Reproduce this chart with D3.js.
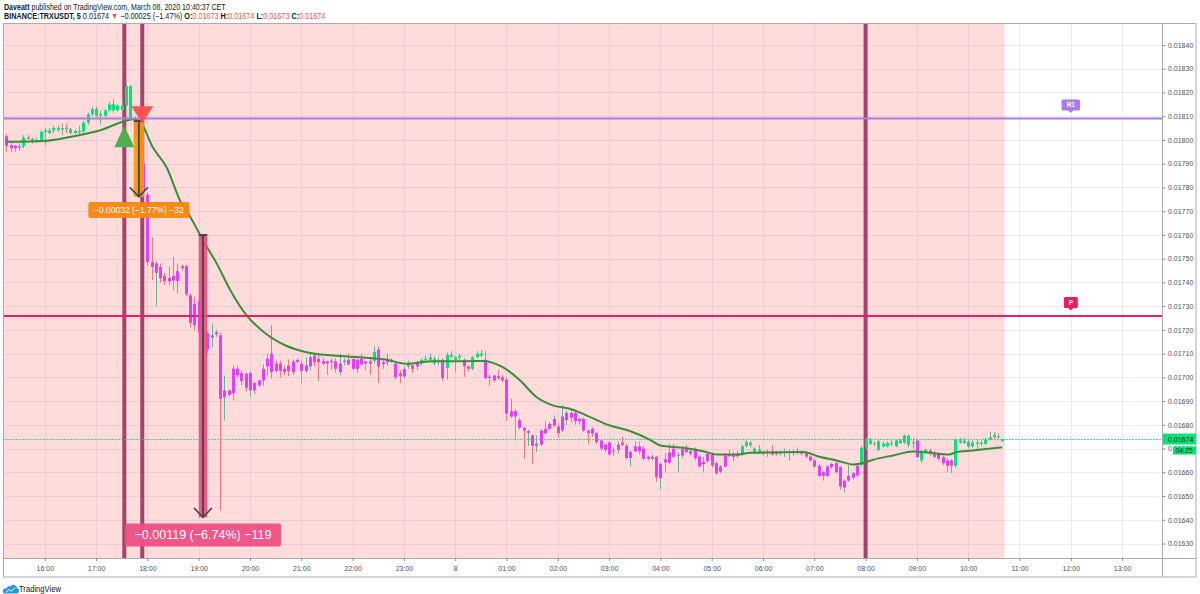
<!DOCTYPE html>
<html><head><meta charset="utf-8">
<script src="https://cdn.jsdelivr.net/npm/d3@7"></script>
<style>
body{margin:0;background:#fff;}
svg{display:block;font-family:"Liberation Sans",Arial,sans-serif;}
</style>
</head><body>
<svg id="c" width="1200" height="594"></svg>
<script>
// ---------- DATA (prices given ×100000, i.e. 1801.6 = 0.018016) ----------
const firstBar = "2020-03-07 15:15";
const barMinutes = 5;
const openE5 = [1801.6,1797.8,1797.5,1797,1797.3,1801,1800.5,1799.5,1800,1803.4,1803,1804,1805,1804.3,1805,1804.5,1803,1803.6,1803.6,1807.3,
1810.8,1813,1810.2,1810.2,1812.5,1815,1812.5,1812.5,1814.5,1822.7,1809,1801.5,1790,1777,1748.6,1744,1746.5,1742.6,1740.5,1742.7,
1740.6,1746.8,1746.8,1734.5,1731,1732,1719,1718.5,1716.8,1718,1717.7,1691.5,1692.6,1693.3,1703.7,1701.8,1701.5,1694.5,1697.6,1696.6,
1698.7,1704.6,1702.2,1705.8,1705.8,1703.6,1705,1702.2,1706.5,1705.8,1702.6,1704.6,1709.2,1707.8,1705.8,1706.7,1706.5,1706.7,1702.2,1706.5,
1707.4,1707.8,1707.4,1705.4,1706.7,1706.7,1706.9,1711.7,1705.6,1706.3,1707.4,1705.8,1701.8,1700.4,1704.6,1705,1704.6,1705.8,1707.4,1707.4,
1705.8,1706.5,1707.4,1704,1709.4,1708.5,1708.4,1707.4,1704.6,1703.6,1708.5,1709.2,1707.4,1699.7,1700.8,1700.5,1700,1699,1683.5,1685.7,
1682,1678.8,1676.6,1675.5,1671.2,1671.7,1678.3,1678.3,1679.7,1679.3,1677.6,1682,1685,1685,1682.5,1682.5,1677.6,1678.3,1676.5,1673.4,
1671.7,1672.6,1668.8,1669.5,1672.6,1671.1,1666,1668.8,1670.9,1670,1666.6,1665.7,1666.6,1657.5,1664.1,1664,1669.9,1667,1667,1669.9,
1668.8,1669.9,1666.6,1663.5,1664.7,1667.5,1663.8,1660.2,1662.4,1667.5,1667.5,1666.8,1667.4,1671,1672.5,1670,1669.5,1668.5,1668.2,1668.8,
1668.5,1667.8,1668.3,1668.3,1668.4,1668.4,1668.5,1668.5,1666.6,1665,1662.8,1660,1658.5,1663.5,1663.8,1662.2,1653.5,1656.5,1657.7,1658.7,
1663,1670.5,1672,1671.9,1669.5,1670.9,1670.9,1672,1670.9,1672.3,1672.5,1671.5,1672.7,1673.4,1665,1668.5,1669.2,1668.2,1667.8,1666.3,
1665,1662.8,1662.8,1672.5,1672.3,1670.9,1670.9,1672,1672,1672,1673.8,1675.7,1674.8,1673];
const highE5 = [1802.5,1799,1798,1798.5,1802,1802,1801,1801,1804,1805,1805,1806,1806,1807,1807,1805,1804.5,1806,1808,1811.5,
1814,1814,1812.5,1813,1816,1817,1815,1816,1823.5,1823,1810,1803,1791,1778,1759,1749,1748,1744,1746.5,1750.7,
1748,1747.5,1747.5,1735.5,1734,1733,1720.5,1719,1722.7,1720,1719,1700.8,1695,1705,1705,1703,1702,1702.5,1698,1699,
1705.5,1710,1722,1707,1707,1705,1707.5,1707.5,1708,1707,1708.5,1710,1710,1710.2,1708,1707,1708,1708,1710,1708,
1710,1708,1708,1710,1707,1708,1713,1713,1708,1710,1708,1706,1703,1704.5,1707,1706,1707,1708,1709,1710,
1709,1708.5,1708,1710.5,1711,1709,1710,1708,1705,1709,1711,1711.5,1711,1701,1701,1703,1701,1700,1691,1686.5,
1683,1679,1678,1676,1675.5,1678,1681.5,1681,1684,1680.6,1688.4,1686,1686.5,1686,1683,1683,1678,1679,1677,1674,
1672,1673,1670.5,1673,1675,1672,1669,1673,1673,1671,1667,1667.5,1667,1664,1668,1672,1672,1668.5,1670.5,1671.5,
1669.5,1670.5,1667,1666.5,1668.5,1668,1664.5,1663,1668,1669.5,1668.5,1669,1671.5,1673.5,1673,1670.5,1671.5,1669,1669.5,1671.5,
1669,1669,1670,1669.5,1669.5,1670.5,1669,1669,1667,1665.5,1663.5,1660.5,1663,1664,1664.5,1662.5,1657,1663,1660,1663.5,
1671,1674.5,1674.5,1673,1674,1673,1673,1673.5,1674,1674,1676,1676,1674.5,1674,1669.5,1670,1670,1669,1668.5,1667,
1666,1665.5,1674.5,1674.5,1674.5,1673.5,1673.5,1674,1673.5,1674.5,1677,1677,1676.5,1674];
const lowE5 = [1795,1795,1795,1795.5,1796.5,1800,1798.5,1799,1799.5,1797.8,1802.5,1803,1803.5,1802,1803,1802.5,1802.5,1802.5,1803,1806.5,
1810,1809.5,1806.5,1809.5,1812,1811.5,1812,1812,1814,1808,1800,1788,1776,1747,1741,1730,1740,1739,1738.8,1736.7,
1735.5,1745,1734,1721,1720,1718,1714,1710,1712.6,1717,1643.9,1681.8,1692,1690.3,1700,1696.7,1694,1692,1693,1696,
1696.5,1700.8,1699.5,1702,1700,1701,1700.5,1701,1705.5,1697.6,1702,1703,1704.5,1698.5,1705,1701,1703,1702,1700.8,1705,
1705,1703,1702,1705,1703,1701,1706,1697.6,1703.6,1705,1706,1699,1697.6,1699.5,1703.5,1702,1703,1705,1706,1706.5,
1705,1705,1698.5,1699,1708,1702,1707,1700.2,1702.5,1703,1708,1708.5,1699,1696.5,1698,1699,1698,1681.8,1683,1673.5,
1678,1665.7,1671,1663.5,1668.5,1671,1676,1678,1679,1674.5,1677,1680,1681,1680,1680,1677,1672,1675,1672,1669,
1668.5,1667,1667,1668,1671,1665.5,1662.4,1668.5,1667.5,1665,1665,1665,1656,1652.7,1660,1663.5,1666,1660,1666,1668,
1667,1665,1662,1660,1664,1662,1659,1659.5,1662,1666.5,1664.5,1666,1667,1670.5,1670.5,1668,1668,1667,1666.5,1667,
1667,1667,1666.5,1665,1667,1667.5,1667,1666,1664.5,1662,1658,1656.5,1658,1661.5,1659.5,1652.7,1651.4,1656,1657,1658,
1662.5,1669.5,1671.5,1671,1669,1670.5,1670.5,1671,1670.5,1672,1672,1670.5,1670,1666,1664,1668,1667,1666,1665,1663,
1660,1659.6,1662,1672,1672,1670,1670.5,1669.5,1671,1671.5,1673.5,1673.4,1674,1673];
const closeE5 = [1797.5,1796.5,1796.5,1797.3,1801,1800.5,1799.5,1800,1803.4,1804,1804,1805,1804.3,1805,1804.5,1803,1803.8,1803.8,1807.3,1810.8,
1813,1810.2,1811,1812.5,1815,1812.5,1814.5,1814.5,1822.7,1809,1801.5,1790,1778,1748.6,1746.5,1748,1741.7,1740.6,1741.8,1740.8,
1744.7,1746,1735,1723,1722,1719,1718,1711.7,1717.7,1719,1691,1694.5,1694.5,1703.7,1700.8,1698.4,1695.6,1701.8,1694.5,1698.7,
1703.6,1707.8,1710,1702.7,1702.7,1702.2,1702.6,1706.7,1707.3,1702.7,1705,1708.5,1706.4,1706.4,1706.8,1705.8,1707,1703.6,1705.8,1707,
1705.4,1703.6,1703.6,1707.8,1705.8,1705.8,1710.7,1704.6,1706.3,1707,1706.7,1700,1700.4,1703.5,1706,1703.6,1706,1707.4,1707.8,1708.5,
1707.8,1707.1,1699.7,1709.4,1708.7,1707.4,1709,1704.6,1703.6,1708.5,1710,1710,1699.7,1700.2,1698.7,1699.5,1698.7,1684.7,1685.7,1683.5,
1678.8,1677.6,1677.4,1671.2,1672,1677.6,1676.5,1680.4,1682.5,1676.5,1683.5,1685,1683,1681.5,1681.5,1677.6,1676.5,1676.3,1672.7,1670,
1669.5,1667.5,1669.2,1671.7,1671.6,1666,1668.6,1670.9,1668.8,1665.7,1665.7,1666.6,1657.9,1663.6,1665.5,1668.4,1666.6,1667.4,1669.9,1668.5,
1667.8,1666,1662.4,1664.3,1667.8,1662.8,1659.6,1662.4,1667.1,1666.8,1666.5,1667.4,1670.9,1672.7,1671.5,1668.5,1668.6,1667.8,1668.6,1667.5,
1667.8,1668.5,1668.6,1668.6,1668.7,1668.8,1667.8,1666.6,1665,1662.4,1658.5,1658.5,1662.4,1662.2,1660,1654,1656.5,1658.6,1659.6,1662.8,
1670.3,1673.4,1673.4,1672.3,1673.1,1672,1672.3,1672.3,1673.4,1673.4,1675.5,1675.4,1672.1,1666.4,1668.8,1669.5,1667.8,1666.5,1665.7,1663.8,
1662.8,1665,1673.7,1673.4,1673.4,1673,1672.5,1672.5,1672.4,1673.8,1674.8,1674.9,1675.2,1674];

// moving average (green line)
const maTimes = ["2020-03-07 15:15","2020-03-07 16:00","2020-03-07 16:40","2020-03-07 17:05","2020-03-07 17:35","2020-03-07 17:45","2020-03-07 17:52",
"2020-03-07 18:06","2020-03-07 18:23","2020-03-07 18:38","2020-03-07 18:50","2020-03-07 19:07","2020-03-07 19:21","2020-03-07 19:37","2020-03-07 19:56",
"2020-03-07 20:16","2020-03-07 20:43","2020-03-07 21:06","2020-03-07 21:37","2020-03-07 22:16","2020-03-07 22:40","2020-03-07 23:03","2020-03-07 23:34",
"2020-03-08 00:13","2020-03-08 00:32","2020-03-08 00:54","2020-03-08 01:16","2020-03-08 01:35","2020-03-08 01:54","2020-03-08 02:14","2020-03-08 02:34",
"2020-03-08 03:01","2020-03-08 03:25","2020-03-08 03:48","2020-03-08 04:00","2020-03-08 04:27","2020-03-08 04:50","2020-03-08 05:06","2020-03-08 05:29",
"2020-03-08 05:45","2020-03-08 06:47","2020-03-08 07:07","2020-03-08 07:26","2020-03-08 07:46","2020-03-08 07:53","2020-03-08 08:09","2020-03-08 08:32",
"2020-03-08 08:56","2020-03-08 09:15","2020-03-08 09:38","2020-03-08 09:46","2020-03-08 10:05","2020-03-08 10:40"];
const maE5 = [1799.2,1799.6,1802.0,1804.1,1808.1,1808.8,1807.6,1797.1,1788.1,1774.6,1767.6,1756.5,1748.0,1736.7,1726.1,
1719.1,1713.2,1710.6,1709.2,1708.3,1707.4,1705.7,1706.8,1706.8,1706.9,1704.6,1698.7,1691.7,1688.2,1686.8,1683.9,
1679.7,1677.3,1673.7,1671.3,1670.3,1668.9,1667.5,1667.5,1668.2,1668.5,1666.4,1665.0,1663.3,1663.6,1665.3,1667.1,
1668.8,1668.2,1667.5,1668.5,1669.2,1670.6];

const priceTicks = [0.01630,0.01640,0.01650,0.01660,0.01670,0.01680,0.01690,0.01700,0.01710,0.01720,0.01730,
0.01740,0.01750,0.01760,0.01770,0.01780,0.01790,0.01800,0.01810,0.01820,0.01830,0.01840];
const hourTicks = ["2020-03-07 16:00","2020-03-07 17:00","2020-03-07 18:00","2020-03-07 19:00","2020-03-07 20:00","2020-03-07 21:00",
"2020-03-07 22:00","2020-03-07 23:00","2020-03-08 00:00","2020-03-08 01:00","2020-03-08 02:00","2020-03-08 03:00","2020-03-08 04:00",
"2020-03-08 05:00","2020-03-08 06:00","2020-03-08 07:00","2020-03-08 08:00","2020-03-08 09:00","2020-03-08 10:00","2020-03-08 11:00",
"2020-03-08 12:00","2020-03-08 13:00"];
const hourLabels = ["16:00","17:00","18:00","19:00","20:00","21:00","22:00","23:00","8","01:00","02:00","03:00","04:00",
"05:00","06:00","07:00","08:00","09:00","10:00","11:00","12:00","13:00"];

const pivotNames = ["R1","P"];
const pivotValues = [0.01809, 0.017258];
const pivotLabelTime = "2020-03-08 12:00";

const vLineTimes = ["2020-03-07 17:33","2020-03-07 17:54","2020-03-08 08:00"];
const markerTimes = ["2020-03-07 17:33","2020-03-07 17:54"];
const markerPrices = [0.01806, 0.01807];
const markerTypes = ["buy","sell"];

const rangeStart = ["2020-03-07 17:44","2020-03-07 19:00"];
const rangeEnd = ["2020-03-07 17:56","2020-03-07 19:10"];
const rangeTop = [0.01808, 0.01760];
const rangeBottom = [0.01776, 0.01641];
const rangeLabels = ["\u22120.00032 (\u22121.77%) \u221232", "\u22120.00119 (\u22126.74%) \u2212119"];

const lastPrice = 0.01674;
const countdown = "04:25";

// ---------- CHART ----------
const parse = d3.timeParse("%Y-%m-%d %H:%M");
const svg = d3.select("#c");
const L = 4, R = 1162.5, T = 24, B = 558, OR = 1196, OB = 577;

const x = d3.scaleTime().domain([parse("2020-03-07 16:00"), parse("2020-03-08 13:00")]).range([44.8, 1122.1]);
const y = d3.scaleLinear().domain([0.01630, 0.01840]).range([543.5, 45]);

const t0 = parse(firstBar);
const bars = closeE5.map((c, i) => ({
  t: new Date(t0.getTime() + i * barMinutes * 60000),
  o: openE5[i] / 1e5, h: highE5[i] / 1e5, l: lowE5[i] / 1e5, c: c / 1e5
}));
const ma = maTimes.map((t, i) => ({ t: parse(t), v: maE5[i] / 1e5 }));
function maAt(d) {
  const tt = d.getTime();
  for (let i = 1; i < ma.length; i++) {
    const a = ma[i - 1], b = ma[i];
    if (tt <= b.t.getTime()) {
      const f = (tt - a.t.getTime()) / (b.t.getTime() - a.t.getTime());
      return a.v + Math.max(0, Math.min(1, f)) * (b.v - a.v);
    }
  }
  return ma[ma.length - 1].v;
}

svg.append("rect").attr("width", 1200).attr("height", 594).attr("fill", "#fff");

// header (scaled horizontally to the reference width)
function fitLine(g, target) {
  const t = g.select("text");
  const w = t.node().getComputedTextLength();
  g.attr("transform", `translate(4,0) scale(${target / w},1)`);
}
const g1 = svg.append("g");
const h1 = g1.append("text").attr("x", 0).attr("y", 9.6).attr("font-size", 8.8).attr("fill", "#131722");
h1.append("tspan").attr("font-weight", "bold").text("Daveatt");
h1.append("tspan").text(" published on TradingView.com, March 08, 2020 10:40:37 CET");
fitLine(g1, 222);
const last = bars[bars.length - 1];
const red = "#ef5350";
const g2 = svg.append("g");
const h2 = g2.append("text").attr("x", 0).attr("y", 19.4).attr("font-size", 8.8).attr("fill", "#131722");
h2.append("tspan").attr("font-weight", "bold").text("BINANCE:TRXUSDT, 5");
h2.append("tspan").text(" " + last.c.toFixed(5) + " ");
h2.append("tspan").attr("fill", red).text("\u25BC");
h2.append("tspan").text(" \u22120.00025 (\u22121.47%) ");
[["O:", last.o], [" H:", last.h], [" L:", last.l], [" C:", last.c]].forEach(([k, v]) => {
  h2.append("tspan").attr("font-weight", "bold").text(k);
  h2.append("tspan").attr("fill", red).text(v.toFixed(5));
});
fitLine(g2, 322);

// clip
svg.append("clipPath").attr("id", "plot").append("rect").attr("x", L).attr("y", T).attr("width", R - L).attr("height", B - T);
const plot = svg.append("g").attr("clip-path", "url(#plot)");

// grid
const hourDates = hourTicks.map(parse);
plot.selectAll(".vg").data(hourDates).join("line")
  .attr("x1", d => Math.round(x(d)) + 0.5).attr("x2", d => Math.round(x(d)) + 0.5)
  .attr("y1", T).attr("y2", B).attr("stroke", "#e8edf4").attr("stroke-width", 1);
plot.selectAll(".hg").data(priceTicks).join("line")
  .attr("y1", d => Math.round(y(d)) + 0.5).attr("y2", d => Math.round(y(d)) + 0.5)
  .attr("x1", L).attr("x2", R).attr("stroke", "#e8edf4").attr("stroke-width", 1);

// session highlight
const halfBar = (x(new Date(t0.getTime() + barMinutes * 60000)) - x(t0)) / 2;
plot.append("rect").attr("x", L).attr("y", T).attr("width", x(last.t) + halfBar - L).attr("height", B - T)
  .attr("fill", "rgb(255,82,82)").attr("fill-opacity", 0.2);

// vertical event lines
plot.selectAll(".vl").data(vLineTimes.map(parse)).join("line")
  .attr("x1", d => x(d)).attr("x2", d => x(d)).attr("y1", T).attr("y2", B)
  .attr("stroke", "#9c3566").attr("stroke-width", 4).attr("stroke-opacity", 0.92);

// last price dotted line
plot.append("line").attr("x1", L).attr("x2", R).attr("y1", Math.round(y(lastPrice)) + 0.5).attr("y2", Math.round(y(lastPrice)) + 0.5)
  .attr("stroke", "#1fcf8a").attr("stroke-width", 1).attr("stroke-dasharray", "2,1").attr("stroke-opacity", 0.75);

// candles
const upC = "#00e676", dnC = "#e040fb";
const cg = plot.append("g");
cg.selectAll(".w").data(bars).join("line")
  .attr("x1", d => Math.round(x(d.t)) + 0.5).attr("x2", d => Math.round(x(d.t)) + 0.5)
  .attr("y1", d => y(d.h)).attr("y2", d => y(d.l))
  .attr("stroke", d => d.c >= d.o ? "#6fae9f" : "#f07a7a").attr("stroke-width", 1);
cg.selectAll(".b").data(bars).join("rect")
  .attr("x", d => Math.round(x(d.t)) - 1).attr("width", 3)
  .attr("y", d => Math.min(y(d.o), y(d.c)))
  .attr("height", d => Math.max(1, Math.abs(y(d.o) - y(d.c))))
  .attr("fill", d => d.c >= maAt(d.t) ? upC : dnC);

// moving average
plot.append("path").datum(ma)
  .attr("d", d3.line().x(d => x(d.t)).y(d => y(d.v)).curve(d3.curveMonotoneX))
  .attr("fill", "none").attr("stroke", "#3a8e3a").attr("stroke-width", 2);

// pivot lines
const pivotColors = ["#a97de6", "#e91e63"];
pivotValues.forEach((v, i) => {
  plot.append("line").attr("x1", L).attr("x2", R).attr("y1", y(v)).attr("y2", y(v))
    .attr("stroke", pivotColors[i]).attr("stroke-width", 2);
});

// price range tools
const rangeFill = ["#ff9800", "#f04a7f"];
const labelFill = ["#f7870f", "#ef4f84"];
const labelW = [101, 156], labelH = [16, 23], labelFS = [8.5, 12.5], labelGap = [5, 6];
rangeStart.forEach((s, i) => {
  const x1 = x(parse(s)), x2 = x(parse(rangeEnd[i])), mx = (x1 + x2) / 2;
  const yt = y(rangeTop[i]), yb = y(rangeBottom[i]);
  plot.append("rect").attr("x", x1).attr("y", yt).attr("width", x2 - x1).attr("height", yb - yt)
    .attr("fill", rangeFill[i]).attr("fill-opacity", 0.9);
  plot.append("line").attr("x1", x1).attr("x2", x2).attr("y1", yt).attr("y2", yt).attr("stroke", "#4a4a4a").attr("stroke-width", 2);
  plot.append("line").attr("x1", mx).attr("x2", mx).attr("y1", yt).attr("y2", yb).attr("stroke", "#4a4a4a").attr("stroke-width", 2);
  plot.append("path").attr("d", `M${mx - 9},${yb - 9.5}L${mx},${yb}L${mx + 9},${yb - 9.5}`)
    .attr("fill", "none").attr("stroke", "#4a4a4a").attr("stroke-width", 1.6);
  const ly = yb + labelGap[i];
  plot.append("rect").attr("x", mx - labelW[i] / 2).attr("y", ly).attr("width", labelW[i]).attr("height", labelH[i])
    .attr("rx", 2).attr("fill", labelFill[i]).attr("fill-opacity", 0.95);
  plot.append("text").attr("x", mx).attr("y", ly + labelH[i] / 2).attr("dy", "0.35em").attr("text-anchor", "middle")
    .attr("font-size", labelFS[i]).attr("fill", "#fff").text(rangeLabels[i]);
});

// buy / sell markers
markerTimes.forEach((t, i) => {
  const cx = x(parse(t)), py = y(markerPrices[i]);
  if (markerTypes[i] === "buy") {
    plot.append("path").attr("d", `M${cx},${py}L${cx + 10},${py + 21.5}L${cx - 10},${py + 21.5}Z`).attr("fill", "#4caf50");
  } else {
    plot.append("path").attr("d", `M${cx},${py}L${cx + 11},${py - 17}L${cx - 11},${py - 17}Z`).attr("fill", "#ff5252");
  }
});

// pivot tags
const tagW = [18.6, 14];
pivotValues.forEach((v, i) => {
  const cx = x(parse(pivotLabelTime)), ly = y(v);
  const g = plot.append("g");
  g.append("rect").attr("x", cx - tagW[i] / 2).attr("y", ly - 19).attr("width", tagW[i]).attr("height", 11).attr("rx", 1.5)
    .attr("fill", pivotColors[i]);
  g.append("path").attr("d", `M${cx - 3},${ly - 8.5}L${cx},${ly - 5.5}L${cx + 3},${ly - 8.5}Z`).attr("fill", pivotColors[i]);
  g.append("text").attr("x", cx).attr("y", ly - 13.5).attr("dy", "0.35em").attr("text-anchor", "middle")
    .attr("font-size", 6.5).attr("font-weight", "bold").attr("fill", "#fff").text(pivotNames[i]);
});

// frame
const frame = svg.append("g").attr("fill", "none").attr("stroke", "#a8abb3").attr("stroke-width", 1);
frame.append("rect").attr("x", L - 0.5).attr("y", T - 0.5).attr("width", OR - L + 0.5).attr("height", OB - T + 0.5);
frame.append("line").attr("x1", R).attr("x2", R).attr("y1", T).attr("y2", OB);
frame.append("line").attr("x1", L).attr("x2", OR).attr("y1", B + 0.5).attr("y2", B + 0.5);

// axes
const yAxis = d3.axisRight(y).tickValues(priceTicks).tickFormat(d => d.toFixed(5)).tickSize(3).tickPadding(2.5);
const ya = svg.append("g").attr("transform", `translate(${R},0)`).call(yAxis);
ya.select(".domain").remove();
ya.selectAll("line").attr("stroke", "#8a8d95");
ya.selectAll("text").attr("font-size", 7).attr("fill", "#4c505a").attr("font-family", "Liberation Sans, Arial, sans-serif");

const xAxis = d3.axisBottom(x).tickValues(hourDates).tickFormat((d, i) => hourLabels[i]).tickSize(3).tickPadding(5);
const xa = svg.append("g").attr("transform", `translate(0,${B})`).call(xAxis);
xa.select(".domain").remove();
xa.selectAll("line").attr("stroke", "#8a8d95");
xa.selectAll("text").attr("font-size", 7).attr("fill", "#4c505a").attr("font-family", "Liberation Sans, Arial, sans-serif");

// last price label + countdown
const lpY = y(lastPrice);
svg.append("rect").attr("x", R + 0.5).attr("y", lpY - 5.5).attr("width", OR - R - 0.5).attr("height", 11).attr("fill", "#00e676");
svg.append("text").attr("x", R + 5.5).attr("y", lpY).attr("dy", "0.35em").attr("font-size", 7).attr("fill", "#131722").text(lastPrice.toFixed(5));
svg.append("rect").attr("x", 1173).attr("y", lpY + 7.5).attr("width", OR - 1173).attr("height", 8).attr("fill", "#00e676");
svg.append("text").attr("x", 1175.5).attr("y", lpY + 11.5).attr("dy", "0.35em").attr("font-size", 6.8).attr("fill", "#131722").text(countdown);

// TradingView logo
const logo = svg.append("g");
logo.append("path").attr("d", "M4.5,593.5 H16.8 A2.7,2.7 0 0 0 17,588.2 A3.6,3.6 0 0 0 10.4,586.4 A2.6,2.6 0 0 0 6.6,588.6 A2.5,2.5 0 0 0 4.5,593.5 Z")
  .attr("fill", "#2196f3");
logo.append("polyline").attr("points", "6,592.3 9,589.6 11.3,591.2 15.3,587.8").attr("fill", "none").attr("stroke", "#fff").attr("stroke-width", 1);
const lg = svg.append("g");
lg.append("text").attr("x", 0).attr("y", 592.3).attr("font-size", 8.2).attr("fill", "#131722").text("TradingView");
lg.attr("transform", `translate(19,0) scale(${42 / lg.select("text").node().getComputedTextLength()},1)`);
</script>
</body></html>
